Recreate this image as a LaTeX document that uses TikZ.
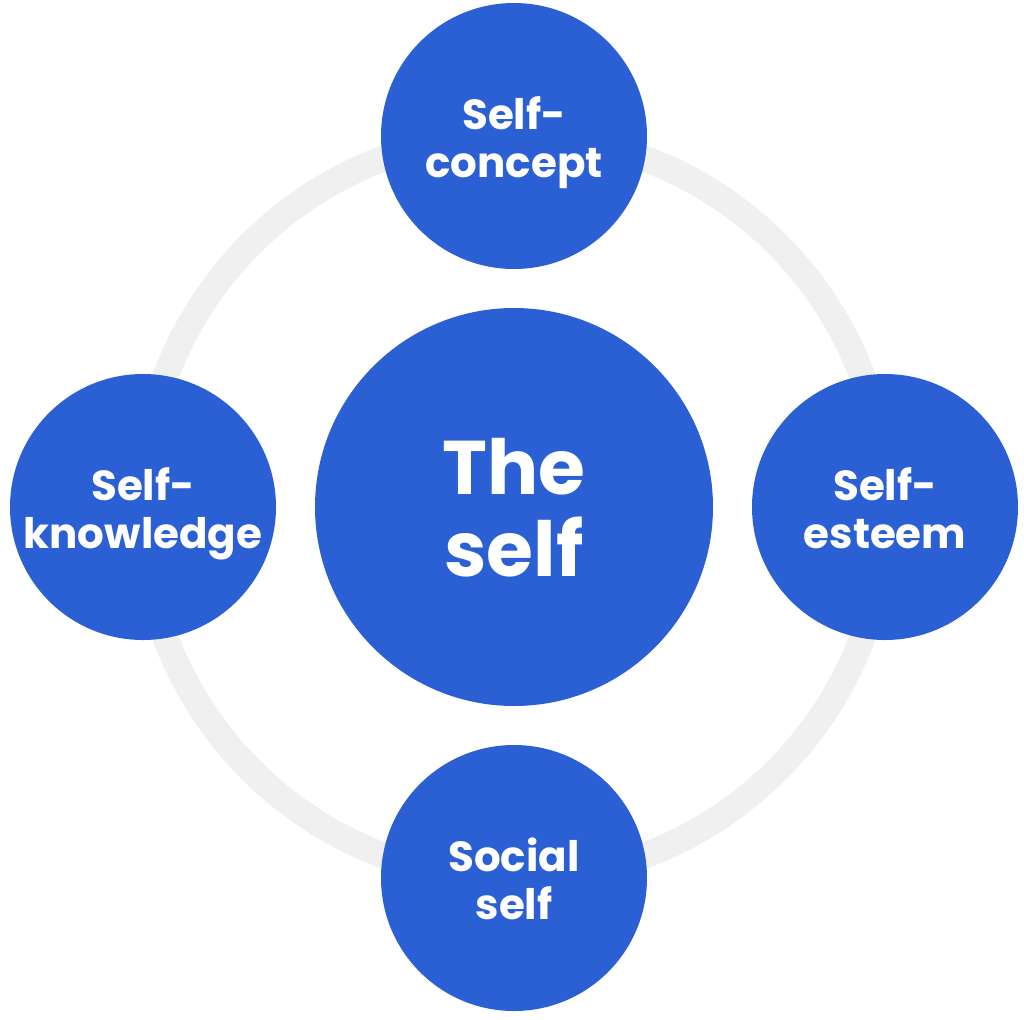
\documentclass[tikz,border=0pt]{standalone}
\usepackage{fontspec}
\setmainfont{Poppins}
\definecolor{selfblue}{RGB}{43,96,212}
\definecolor{ringgray}{RGB}{240,240,240}
\tikzset{
  satellite/.style={circle, fill=selfblue, draw=none, minimum size=133pt, inner sep=0pt,
    text=white, align=center, font=\fontsize{21}{24}\selectfont\bfseries,
    text height=41pt, text depth=0pt},
  hub/.style={circle, fill=selfblue, draw=none, minimum size=199pt, inner sep=0pt,
    text=white, align=center, font=\fontsize{38}{41}\selectfont\bfseries,
    text height=69.5pt, text depth=0pt},
  ring/.style={draw=ringgray, line width=13pt}
}
\begin{document}
\begin{tikzpicture}[x=0.5pt,y=-0.5pt]
\useasboundingbox (0,0) rectangle (1024,1019);
\coordinate (c) at (514,507);
\draw[ring] (c) circle[radius=372];
\node[hub] (self) at (c) {The\\self};
\node[satellite] (concept) at (514,136) {Self-\\concept};
\node[satellite] (knowledge) at (143,507) {Self-\\knowledge};
\node[satellite] (esteem) at (885,507) {Self-\\esteem};
\node[satellite] (social) at (514,878) {Social\\self};
\end{tikzpicture}
\end{document}
